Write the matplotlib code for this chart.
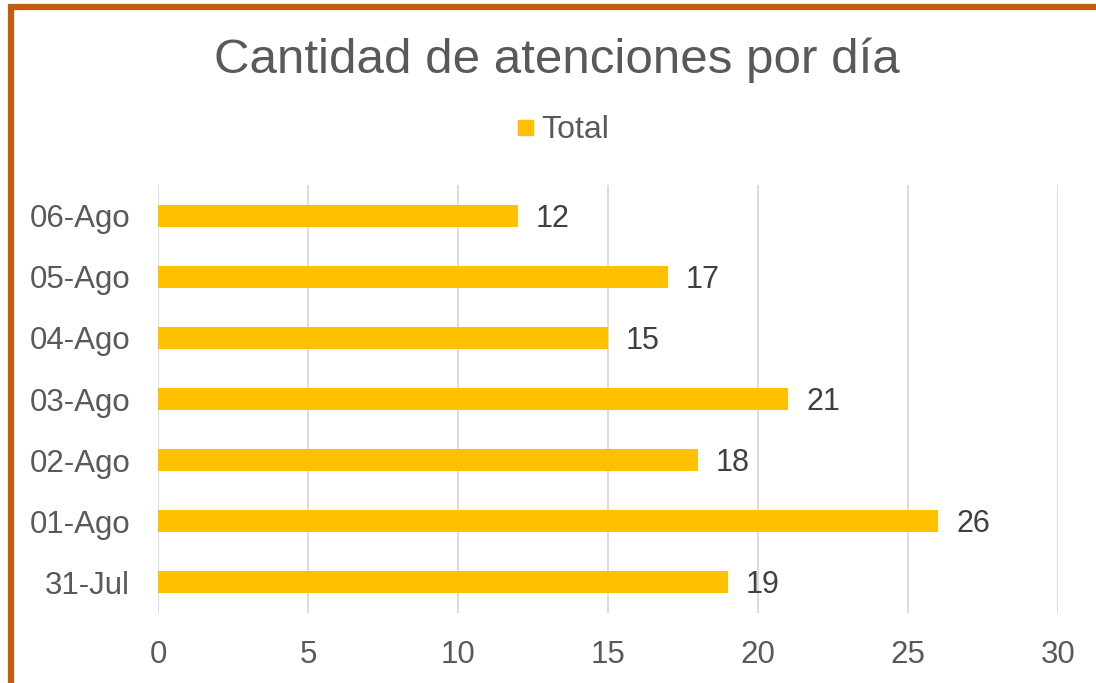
import matplotlib
matplotlib.use("Agg")
import matplotlib.pyplot as plt
from matplotlib.patches import Rectangle
from matplotlib.lines import Line2D

categories = ["31-Jul", "01-Ago", "02-Ago", "03-Ago", "04-Ago", "05-Ago", "06-Ago"]
values = [19, 26, 18, 21, 15, 17, 12]
xticks = [0, 5, 10, 15, 20, 25, 30]
title = "Cantidad de atenciones por día"
series_name = "Total"

plt.rcParams['font.family'] = ['Liberation Sans', 'DejaVu Sans']
W, H = 1096, 683
fig = plt.figure(figsize=(W/100, H/100), dpi=100)
fig.patch.set_facecolor("white")

ax = fig.add_axes([158/W, 1-613/H, 900/W, 428/H])
bar_color = "#FFC000"
ax.barh(range(len(categories)), values, height=0.36, color=bar_color, zorder=3)
ax.set_ylim(-0.5, len(categories)-0.5)
ax.set_xlim(0, 30)
ax.set_xticks(xticks)
ax.set_yticks(range(len(categories)))
ax.set_yticklabels(categories)
ax.tick_params(axis='both', length=0, labelsize=22.5, colors="#595959")
ax.tick_params(axis='x', pad=19.5)
ax.tick_params(axis='y', pad=20)
for s in ax.spines.values():
    s.set_visible(False)
ax.grid(axis='x', color="#D9D9D9", linewidth=1.3, zorder=0)
ax.set_axisbelow(True)

for i, v in enumerate(values):
    ax.annotate(str(v), (v, i), xytext=(18, -11), textcoords="offset pixels",
                ha="left", va="baseline", fontsize=22, color="#404040")

fig.text(557/W, 1-73/H, title, ha="center", va="baseline", fontsize=35.5, color="#595959")

handle = Line2D([], [], marker="s", linestyle="none", markersize=10.8, color=bar_color)
fig.legend([handle], [series_name], loc="center", bbox_to_anchor=(559/W, 1-130/H),
           frameon=False, fontsize=23, handletextpad=0.0, labelcolor="#595959",
           handlelength=1.0, borderpad=0, borderaxespad=0)

# border (extends beyond bottom/right of image)
fig.patches.append(Rectangle((10.5/W, -0.1), 1.2, 1 - 7/H + 0.1, transform=fig.transFigure,
                             fill=False, edgecolor="#C55A11", linewidth=4.5))

fig.savefig("out.png", dpi=100)
